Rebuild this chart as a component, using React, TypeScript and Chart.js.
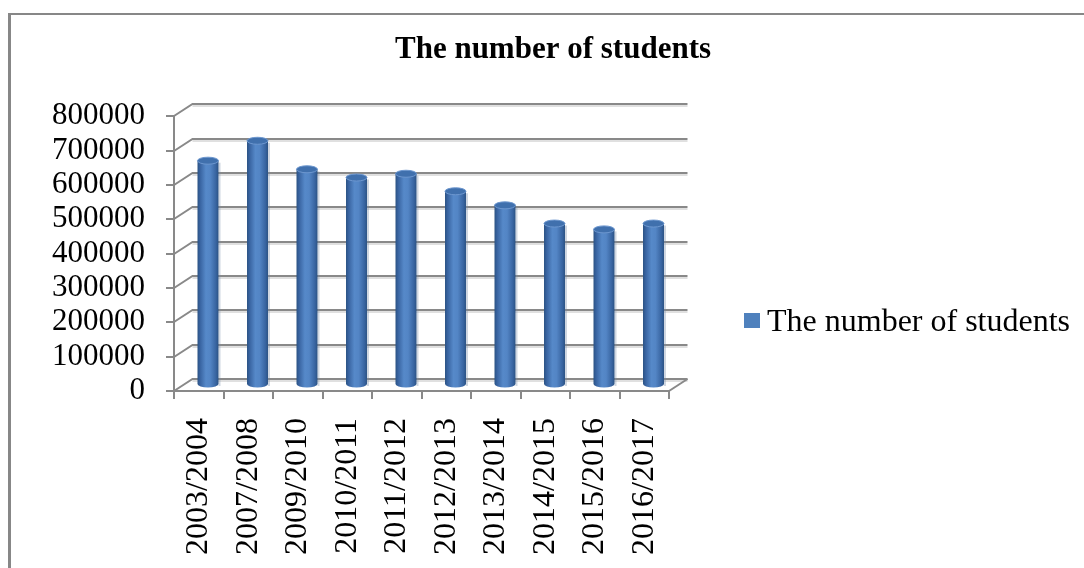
import React, { useEffect, useRef } from "react";
import { Chart, registerables } from "chart.js";

Chart.register(...registerables);

const chartTitle = "The number of students";
const seriesLabel = "The number of students";
const categories = [
  "2003/2004",
  "2007/2008",
  "2009/2010",
  "2010/2011",
  "2011/2012",
  "2012/2013",
  "2013/2014",
  "2014/2015",
  "2015/2016",
  "2016/2017",
];
const students = [653000, 711000, 628000, 604000, 615000, 564000, 523000, 470000, 453000, 470000];
const yMin = 0;
const yMax = 800000;
const yStep = 100000;

const FONT = "'Liberation Serif', 'Times New Roman', Times, serif";
const GRID = "#898989";
const BAR = "#4f81bd";
const DEPTH_X = 18.5;
const DEPTH_Y = 12;

const depthPlugin = {
  id: "depth3d",
  beforeDraw(chart: any) {
    const { ctx, width, height } = chart;
    ctx.save();
    ctx.fillStyle = "#ffffff";
    ctx.fillRect(0, 0, width, height);
    ctx.fillStyle = "#878787";
    ctx.fillRect(8, 13, 3, height - 13);
    ctx.fillRect(8, 13, width - 8, 2);
    ctx.restore();
  },
  beforeDatasetsDraw(chart: any) {
    const { ctx, chartArea: a, scales } = chart;
    const ys = scales.y;
    ctx.save();
    ctx.lineCap = "butt";
    ys.ticks.forEach((t: any) => {
      const py = Math.round(ys.getPixelForValue(t.value));
      ctx.strokeStyle = "#e0e0e0";
      ctx.lineWidth = 2;
      ctx.beginPath();
      ctx.moveTo(a.left + DEPTH_X, py - DEPTH_Y + 2);
      ctx.lineTo(a.right + DEPTH_X, py - DEPTH_Y + 2);
      ctx.stroke();
      ctx.strokeStyle = GRID;
      ctx.lineWidth = 2;
      ctx.beginPath();
      ctx.moveTo(a.left, py);
      ctx.lineTo(a.left + DEPTH_X, py - DEPTH_Y);
      ctx.lineTo(a.right + DEPTH_X, py - DEPTH_Y);
      ctx.stroke();
    });
    ctx.beginPath();
    ctx.moveTo(a.right, a.bottom);
    ctx.lineTo(a.right + DEPTH_X, a.bottom - DEPTH_Y);
    ctx.stroke();

    const meta = chart.getDatasetMeta(0);
    meta.data.forEach((el: any) => {
      const p = el.getProps(["x", "y", "base", "width"], true);
      const cx = p.x + DEPTH_X / 2;
      const top = p.y - DEPTH_Y / 2;
      const bot = p.base - DEPTH_Y / 2;
      const r = p.width / 2;
      const ry = 3.5;
      ctx.fillStyle = "rgba(120,140,170,0.35)";
      ctx.fillRect(cx + r, top + 2, 2, bot - top);
      const g = ctx.createLinearGradient(cx - r, 0, cx + r, 0);
      g.addColorStop(0, "#2b5283");
      g.addColorStop(0.12, "#3863a0");
      g.addColorStop(0.4, "#5689c9");
      g.addColorStop(0.6, "#5385c5");
      g.addColorStop(0.88, "#3864a0");
      g.addColorStop(1, "#2b5283");
      ctx.fillStyle = g;
      ctx.beginPath();
      ctx.moveTo(cx - r, top);
      ctx.lineTo(cx - r, bot);
      ctx.ellipse(cx, bot, r, ry, 0, Math.PI, 0, true);
      ctx.lineTo(cx + r, top);
      ctx.closePath();
      ctx.fill();
      ctx.beginPath();
      ctx.ellipse(cx, top, r, ry, 0, 0, Math.PI * 2);
      ctx.fillStyle = "#4070ad";
      ctx.fill();
      ctx.strokeStyle = "#6d97cf";
      ctx.lineWidth = 1;
      ctx.stroke();
    });
    ctx.restore();
    return false;
  },
  afterDraw(chart: any) {
    const { ctx } = chart;
    ctx.save();
    ctx.fillStyle = BAR;
    ctx.fillRect(744, 313, 16, 15);
    ctx.fillStyle = "#000000";
    ctx.font = `32px ${FONT}`;
    ctx.textAlign = "left";
    ctx.textBaseline = "alphabetic";
    ctx.fillText(seriesLabel, 767, 331);
    ctx.restore();
  },
};

export default function App() {
  const ref = useRef<HTMLCanvasElement | null>(null);
  useEffect(() => {
    if (!ref.current) return;
    const chart = new Chart(ref.current, {
      type: "bar",
      data: {
        labels: categories,
        datasets: [
          {
            label: seriesLabel,
            data: students,
            backgroundColor: BAR,
            barPercentage: 0.53,
            categoryPercentage: 0.8,
          },
        ],
      },
      options: {
        responsive: false,
        animation: false,
        devicePixelRatio: 1,
        layout: { padding: { left: 22, right: 0, top: 0, bottom: 0 } },
        plugins: {
          legend: { display: false },
          tooltip: { enabled: false },
          title: {
            display: true,
            text: chartTitle,
            color: "#000000",
            font: { family: FONT, size: 31, weight: "bold" },
            padding: { top: 31, bottom: 48 },
          },
        },
        scales: {
          x: {
            offset: true,
            grid: {
              display: true,
              drawOnChartArea: false,
              drawTicks: true,
              tickLength: 8,
              color: GRID,
              lineWidth: 2,
              offset: true,
            },
            border: { display: true, color: GRID, width: 2 },
            ticks: {
              font: { family: FONT, size: 32 },
              color: "#000000",
              minRotation: 90,
              maxRotation: 90,
              autoSkip: false,
              padding: 19,
            },
            afterFit(s: any) {
              s.height = 177;
            },
          },
          y: {
            min: yMin,
            max: yMax,
            grid: {
              drawOnChartArea: false,
              drawTicks: true,
              tickLength: 8,
              color: GRID,
              lineWidth: 2,
            },
            border: { display: true, color: GRID, width: 2 },
            ticks: {
              stepSize: yStep,
              autoSkip: false,
              font: { family: FONT, size: 31 },
              color: "#000000",
              padding: 21,
              callback: (v: any) => String(v),
            },
            afterFit(s: any) {
              s.width = 152;
            },
          },
          y2: {
            position: "right",
            display: true,
            grid: { display: false },
            border: { display: false },
            ticks: { display: false },
            afterFit(s: any) {
              s.width = 415;
            },
          },
        },
      },
      plugins: [depthPlugin],
    });
    return () => chart.destroy();
  }, []);
  return (
    <div style={{ position: "absolute", left: 0, top: 0, width: 1084, height: 568 }}>
      <canvas ref={ref} width={1084} height={568} />
    </div>
  );
}
